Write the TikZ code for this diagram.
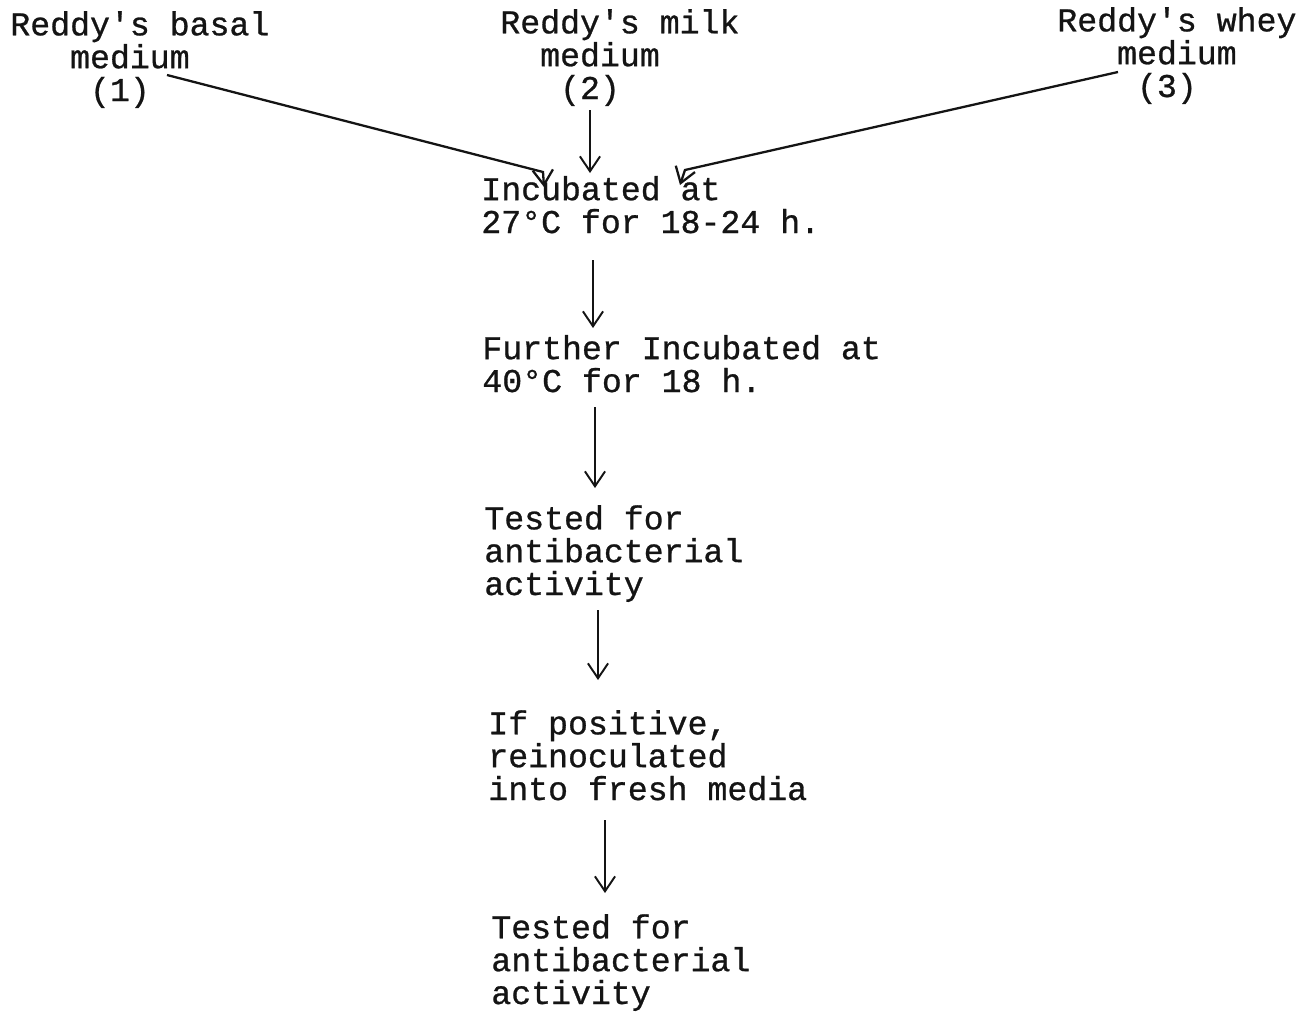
\documentclass[tikz,border=0pt]{standalone}
\usepackage{fontspec}
\setmonofont{Liberation Mono}[FakeBold=0.8]
\usetikzlibrary{arrows.meta,calc}
\tikzset{
  txt/.style={anchor=base west,align=left,inner sep=0pt,text=black!92,
    font=\ttfamily\fontsize{18.9}{18.7}\selectfont},
  flow/.style={-{Straight Barb[length=8.5pt,width=11.5pt]},line width=1.1pt,draw=black!92},
  slant/.style={flow,line width=1.3pt},
}
\newcommand\ind[1]{\phantom{#1}}

\begin{document}
\begin{tikzpicture}[x=0.02cm,y=-0.02cm]
\path[fill=white,use as bounding box] (0,0) rectangle (1305,1014);
% the three media (placed at the baseline of their last line)
\node[txt] (basal) at (10,101) {Reddy's basal\\\ind{mmm}medium\\\ind{mmmm}(1)};
\node[txt] (milk) at (500,99) {Reddy's milk\\\ind{mm}medium\\\ind{mmm}(2)};
\node[txt] (whey) at (1057,97) {Reddy's whey\\\ind{mmm}medium\\\ind{mmmm}(3)};
% steps
\node[txt] (inc) at (481,233) {Incubated at\\27°C for 18-24 h.};
\node[txt] (further) at (482,392) {Further Incubated at\\40°C for 18 h.};
\node[txt] (test1) at (484,595) {Tested for\\antibacterial\\activity};
\node[txt] (posit) at (488,800) {If positive,\\reinoculated\\into fresh media};
\node[txt] (test2) at (491,1004) {Tested for\\antibacterial\\activity};
% arrows
\draw[slant] ($(basal.base west)+(157,-26)$) -- ($(inc.base west)+(62,-61)$) -- ($(inc.base west)+(63,-46)$);
\draw[flow] ($(milk.base west)+(90,11)$) -- ($(inc.base west)+(109,-60)$);
\draw[slant] ($(whey.base west)+(61,-25)$) -- ($(inc.base west)+(204,-63)$) -- ($(inc.base west)+(199,-48)$);
\draw[flow] ($(inc.base west)+(112,27)$) -- ($(further.base west)+(111,-64)$);
\draw[flow] ($(further.base west)+(113,15)$) -- ($(test1.base west)+(111,-107)$);
\draw[flow] ($(test1.base west)+(114,15)$) -- ($(posit.base west)+(110,-120)$);
\draw[flow] ($(posit.base west)+(117,20)$) -- ($(test2.base west)+(114,-111)$);
\end{tikzpicture}
\end{document}
